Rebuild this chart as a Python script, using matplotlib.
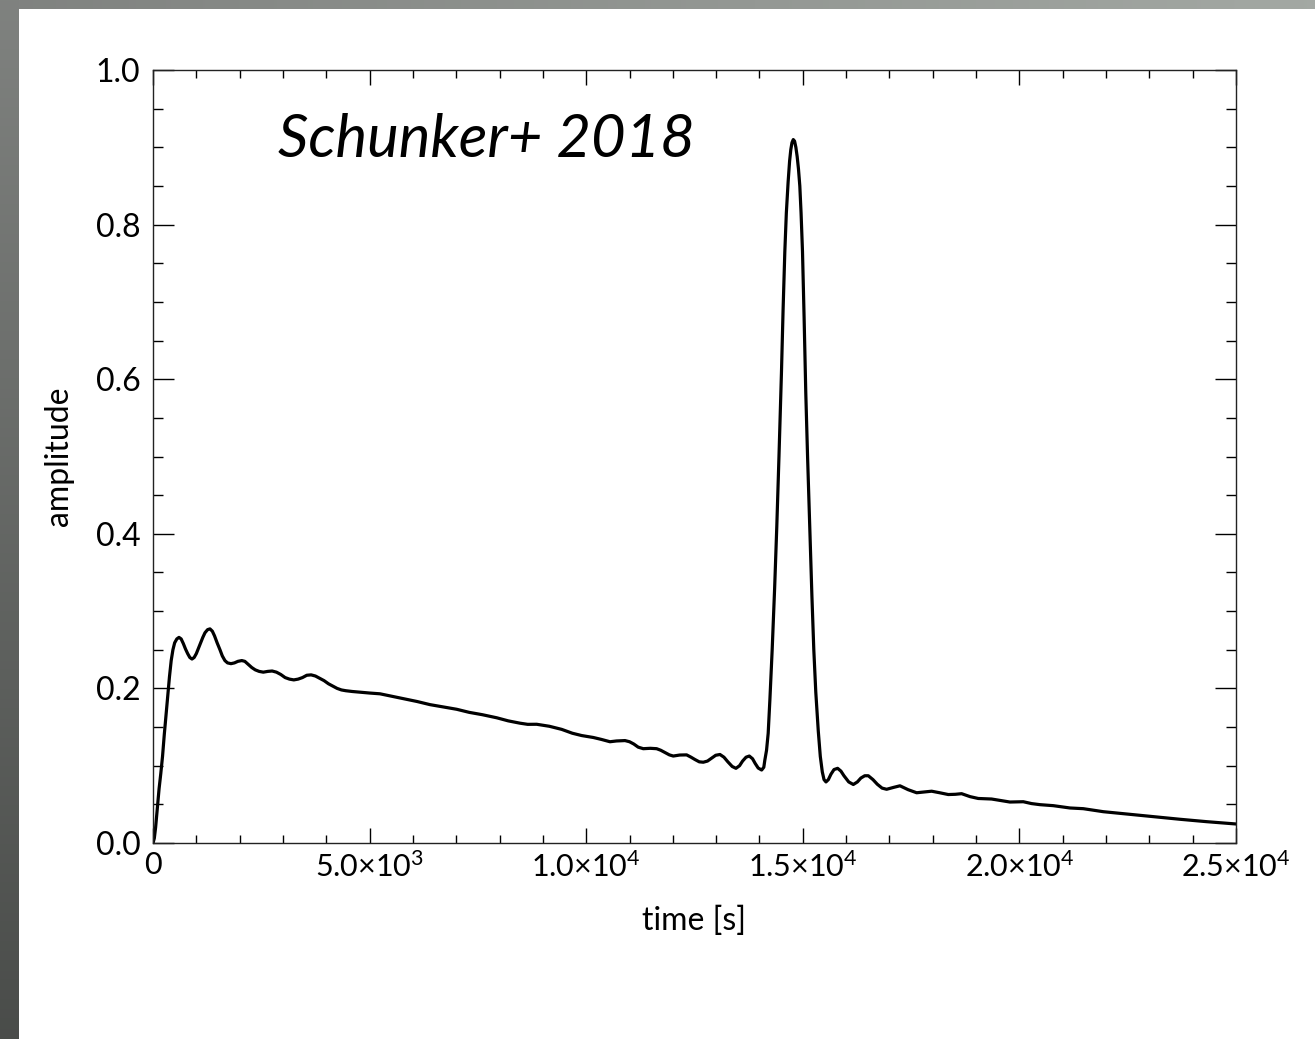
import numpy as np
import matplotlib
matplotlib.use("Agg")
import matplotlib.pyplot as plt
from matplotlib.ticker import MultipleLocator, FixedLocator, FixedFormatter

plt.rcParams['font.family'] = ['Lato', 'DejaVu Sans']
plt.rcParams['mathtext.fontset'] = 'custom'
plt.rcParams['mathtext.rm'] = 'Lato'
plt.rcParams['mathtext.it'] = 'Lato:italic'

# ---- data ----
time_s = [0, 30, 60, 100, 140, 180, 220, 260, 300, 340, 380, 420, 460, 500, 550,
          600, 650, 700, 750, 800, 850, 900, 950, 1000, 1050, 1100, 1150, 1200,
          1260, 1315, 1370, 1420, 1480, 1546, 1600, 1660, 1720, 1800, 1880, 1960,
          2050, 2120, 2200, 2280, 2360, 2450, 2546, 2650, 2750, 2850, 2950, 3050,
          3150, 3250, 3350, 3450, 3550, 3650, 3750, 3850, 3950, 4050, 4150, 4250,
          4350, 4450, 4600, 4800, 5000, 5240, 5500, 5855, 6100, 6394, 6700, 7010,
          7300, 7600, 7934, 8200, 8472, 8650, 8857, 9150, 9434, 9680, 9896, 10164,
          10350, 10549, 10700, 10896, 11000, 11100, 11200, 11318, 11480, 11626,
          11720, 11820, 11920, 12010, 12160, 12318, 12420, 12510, 12610, 12703,
          12800, 12900, 12990, 13088, 13180, 13270, 13370, 13457, 13540, 13610,
          13690, 13765, 13840, 13900, 13970, 14050, 14100, 14123, 14163, 14201,
          14240, 14293, 14350, 14400, 14450, 14508, 14545, 14585, 14620, 14661,
          14695, 14723, 14750, 14780, 14810, 14840, 14870, 14900, 14931, 14960,
          14993, 15030, 15069, 15110, 15160, 15210, 15254, 15300, 15357, 15404,
          15450, 15490, 15535, 15590, 15650, 15720, 15804, 15880, 15950, 16060,
          16166, 16260, 16340, 16430, 16512, 16620, 16720, 16830, 16935, 17100,
          17243, 17430, 17628, 17800, 17974, 18160, 18358, 18520, 18666, 18860,
          19050, 19358, 19570, 19781, 20090, 20280, 20475, 20783, 21168, 21475,
          21937, 22476, 23090, 23706, 24321, 25000]
amplitude = [0.000, 0.006, 0.020, 0.045, 0.070, 0.090, 0.112, 0.140, 0.165, 0.190,
             0.215, 0.236, 0.250, 0.259, 0.264, 0.266, 0.264, 0.258, 0.251, 0.245,
             0.240, 0.238, 0.240, 0.245, 0.252, 0.259, 0.266, 0.272, 0.276, 0.277,
             0.274, 0.268, 0.259, 0.250, 0.242, 0.236, 0.233, 0.232, 0.233, 0.235,
             0.236, 0.235, 0.231, 0.227, 0.224, 0.222, 0.221, 0.222, 0.2225, 0.221,
             0.218, 0.214, 0.212, 0.211, 0.212, 0.214, 0.217, 0.2175, 0.216, 0.213,
             0.210, 0.206, 0.203, 0.200, 0.198, 0.197, 0.196, 0.195, 0.194, 0.193,
             0.190, 0.186, 0.183, 0.179, 0.176, 0.173, 0.169, 0.166, 0.162, 0.158,
             0.155, 0.1535, 0.1536, 0.151, 0.147, 0.142, 0.139, 0.1365, 0.134, 0.131,
             0.132, 0.1325, 0.131, 0.128, 0.124, 0.122, 0.1225, 0.122, 0.120, 0.117,
             0.114, 0.1125, 0.1138, 0.114, 0.111, 0.108, 0.105, 0.1045, 0.106, 0.110,
             0.1135, 0.1145, 0.111, 0.105, 0.099, 0.0966, 0.100, 0.106, 0.111, 0.1125,
             0.109, 0.103, 0.097, 0.0944, 0.098, 0.107, 0.120, 0.142, 0.185, 0.250,
             0.330, 0.410, 0.500, 0.610, 0.690, 0.765, 0.815, 0.855, 0.882, 0.897,
             0.906, 0.910, 0.908, 0.900, 0.888, 0.872, 0.850, 0.815, 0.765, 0.680,
             0.582, 0.500, 0.410, 0.320, 0.250, 0.195, 0.145, 0.112, 0.092, 0.082,
             0.079, 0.082, 0.089, 0.095, 0.0966, 0.093, 0.087, 0.079, 0.0757, 0.079,
             0.084, 0.087, 0.087, 0.082, 0.076, 0.071, 0.0695, 0.072, 0.074, 0.069,
             0.065, 0.066, 0.067, 0.065, 0.0627, 0.063, 0.0638, 0.060, 0.0576, 0.0569,
             0.055, 0.053, 0.0534, 0.051, 0.0496, 0.0483, 0.0453, 0.0444, 0.0405,
             0.0375, 0.034, 0.0307, 0.0276, 0.0246]

x_tick_values = [0, 5000, 10000, 15000, 20000, 25000]
x_tick_labels = ['0', '5.0×10$^{3}$', '1.0×10$^{4}$', '1.5×10$^{4}$',
                 '2.0×10$^{4}$', '2.5×10$^{4}$']
y_tick_values = [0.0, 0.2, 0.4, 0.6, 0.8, 1.0]
y_tick_labels = ['0.0', '0.2', '0.4', '0.6', '0.8', '1.0']
annotation = 'Schunker+ 2018'

W, H = 1315, 1039
fig = plt.figure(figsize=(W / 100, H / 100), dpi=100)

# ---- decorative gray slide border (top and left) ----
bg = np.ones((H, W, 3))
top_h, left_w = 9, 19
xs = np.linspace(0, 1, W)[None, :, None]
top_col = np.array([0.50, 0.51, 0.50]) + xs * np.array([0.14, 0.15, 0.14])
bg[:top_h, :, :] = top_col[0]
ys = np.linspace(0, 1, H)[:, None, None]
left_col = np.array([0.50, 0.51, 0.50]) - ys * np.array([0.21, 0.21, 0.21])
bg[:, :left_w, :] = left_col[:, 0, :][:, None, :]
bax = fig.add_axes([0, 0, 1, 1], zorder=-10)
bax.imshow(bg, aspect='auto', interpolation='nearest')
bax.axis('off')

ax = fig.add_axes([153 / W, 1 - 843 / H, (1236 - 153) / W, (843 - 70) / H])
ax.plot(time_s, amplitude, color='black', lw=2.3, solid_joinstyle='round')
ax.set_xlim(0, 25000)
ax.set_ylim(0, 1.0)

ax.xaxis.set_major_locator(FixedLocator(x_tick_values))
ax.xaxis.set_major_formatter(FixedFormatter(x_tick_labels))
ax.xaxis.set_minor_locator(MultipleLocator(1000))
ax.yaxis.set_major_locator(FixedLocator(y_tick_values))
ax.yaxis.set_major_formatter(FixedFormatter(y_tick_labels))
ax.yaxis.set_minor_locator(MultipleLocator(0.05))

ax.tick_params(axis='x', which='major', direction='in', length=11, width=1,
               top=True, bottom=True, labelsize=22, pad=6)
ax.tick_params(axis='x', which='minor', direction='in', length=5.8, width=1,
               top=True, bottom=True)
ax.tick_params(axis='y', which='major', direction='in', length=15, width=1,
               left=True, right=True, labelsize=23, pad=9)
ax.tick_params(axis='y', which='minor', direction='in', length=7, width=1,
               left=True, right=True)
for s in ax.spines.values():
    s.set_linewidth(1)
    s.set_color('#222222')

ax.set_xlabel('time [s]', fontsize=23, labelpad=17)
ax.set_ylabel('amplitude', fontsize=23, labelpad=16)

ax.text(2885, 0.887, annotation, fontsize=43, style='italic',
        ha='left', va='baseline')

fig.savefig('out.png', dpi=100)
